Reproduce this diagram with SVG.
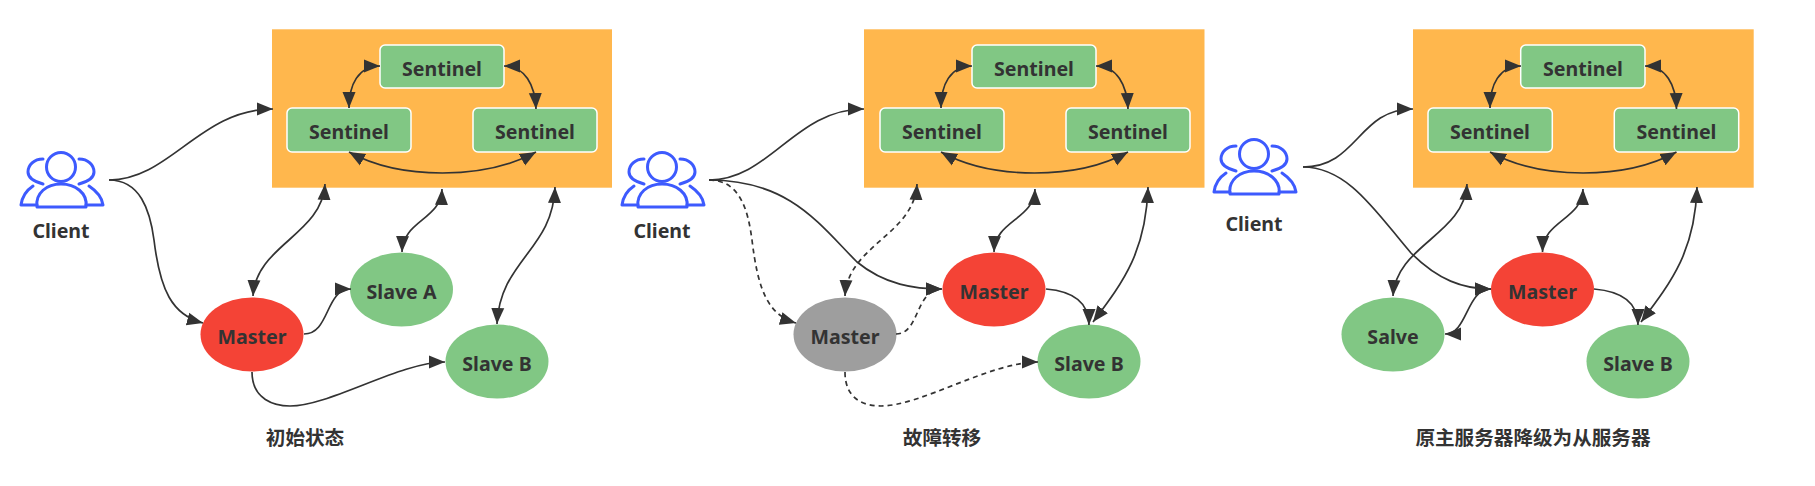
<svg xmlns="http://www.w3.org/2000/svg" xmlns:xlink="http://www.w3.org/1999/xlink" width="1815" height="486" viewBox="0 0 1815 486">
<style>
text{font-family:"Noto Sans","Noto Sans CJK SC",sans-serif;font-weight:700;fill:#333;text-anchor:middle;dominant-baseline:central;font-size:19.6px}
.cap{font-family:"Noto Sans CJK SC","Noto Sans",sans-serif;font-size:19.6px}
.cluster{fill:#FFB74D}
.sen{fill:#81C784;stroke:#fff;stroke-width:1.5}
.green{fill:#81C784}.red{fill:#F44336}.gray{fill:#9E9E9E}
.icon path,.icon ellipse{fill:none;stroke:#3D5AFE;stroke-width:3;stroke-linejoin:round;stroke-linecap:round}
#connectors path{fill:none;stroke:#333;stroke-width:1.7}
#connectors .d{stroke-dasharray:5 4}
#connectors .one{marker-end:url(#a)}
#connectors .two{marker-start:url(#a);marker-end:url(#a)}
</style>
<defs>
<marker id="a" markerUnits="userSpaceOnUse" markerWidth="18" markerHeight="16" refX="16" refY="7" orient="auto-start-reverse"><path d="M0,0.5L16,7L0,13.5Z" fill="#333"/></marker>
<g id="person" class="icon">
<ellipse cx="61" cy="167" rx="14.5" ry="14.5"/>
<path d="M37,207L86,207C88,193 75,184 61,184C47,184 35,193 37,207Z"/>
<path d="M43,159C34,159 28,165 28,172C28,177 32,181 43,184M33,186C27,190 22,197 21,205L37,205"/>
<path d="M79,159C88,159 94,165 94,172C94,177 90,181 79,184M89,186C95,190 102,197 103,205L86,205"/>
</g>
</defs>

<g id="panel1-sentinels"><rect class="cluster" x="272" y="29.3" width="340" height="158.4"/></g>
<g id="p1-sentinel-top"><rect class="sen" x="380" y="45" width="124" height="43" rx="5"/><text x="442" y="68">Sentinel</text></g>
<g id="p1-sentinel-left"><rect class="sen" x="287" y="108" width="124" height="44" rx="5"/><text x="349" y="131">Sentinel</text></g>
<g id="p1-sentinel-right"><rect class="sen" x="473" y="108" width="124" height="44" rx="5"/><text x="535" y="131">Sentinel</text></g>
<g id="p1-client"><use href="#person"/><text x="61" y="230">Client</text></g>
<g id="p1-master"><ellipse class="red" cx="252" cy="334.5" rx="51.5" ry="37"/><text x="252" y="336.5">Master</text></g>
<g id="p1-slave-a"><ellipse class="green" cx="401.5" cy="289.5" rx="51.5" ry="37"/><text x="401.5" y="291.5">Slave A</text></g>
<g id="p1-slave-b"><ellipse class="green" cx="497" cy="361.5" rx="51.5" ry="37"/><text x="497" y="363.5">Slave B</text></g>
<g id="p1-caption"><text class="cap" x="305" y="436">初始状态</text></g>

<g id="panel2-sentinels"><rect class="cluster" x="864" y="29.3" width="340.5" height="158.4"/></g>
<g id="p2-sentinel-top"><rect class="sen" x="972" y="45" width="124" height="43" rx="5"/><text x="1034" y="68">Sentinel</text></g>
<g id="p2-sentinel-left"><rect class="sen" x="880" y="108" width="124" height="44" rx="5"/><text x="942" y="131">Sentinel</text></g>
<g id="p2-sentinel-right"><rect class="sen" x="1066" y="108" width="124" height="44" rx="5"/><text x="1128" y="131">Sentinel</text></g>
<g id="p2-client"><use href="#person" x="601"/><text x="662" y="230">Client</text></g>
<g id="p2-old-master"><ellipse class="gray" cx="845" cy="334.5" rx="51.5" ry="37"/><text x="845" y="336.5">Master</text></g>
<g id="p2-master"><ellipse class="red" cx="994" cy="289.5" rx="51.5" ry="37"/><text x="994" y="291.5">Master</text></g>
<g id="p2-slave-b"><ellipse class="green" cx="1089" cy="361.5" rx="51.5" ry="37"/><text x="1089" y="363.5">Slave B</text></g>
<g id="p2-caption"><text class="cap" x="942" y="436">故障转移</text></g>

<g id="panel3-sentinels"><rect class="cluster" x="1413" y="29.3" width="340.7" height="158.4"/></g>
<g id="p3-sentinel-top"><rect class="sen" x="1520.7" y="45" width="124.3" height="43" rx="5"/><text x="1583" y="68">Sentinel</text></g>
<g id="p3-sentinel-left"><rect class="sen" x="1428" y="108" width="124.3" height="44" rx="5"/><text x="1490" y="131">Sentinel</text></g>
<g id="p3-sentinel-right"><rect class="sen" x="1614.3" y="108" width="124.4" height="44" rx="5"/><text x="1676.5" y="131">Sentinel</text></g>
<g id="p3-client"><use href="#person" x="1193" y="-13"/><text x="1254" y="223">Client</text></g>
<g id="p3-salve"><ellipse class="green" cx="1393" cy="334.5" rx="51.5" ry="37"/><text x="1393" y="336.5">Salve</text></g>
<g id="p3-master"><ellipse class="red" cx="1542.5" cy="289.5" rx="51.5" ry="37"/><text x="1542.5" y="291.5">Master</text></g>
<g id="p3-slave-b"><ellipse class="green" cx="1638" cy="361.5" rx="51.5" ry="37"/><text x="1638" y="363.5">Slave B</text></g>
<g id="p3-caption"><text class="cap" x="1533" y="436">原主服务器降级为从服务器</text></g>

<g id="connectors">
<path class="two" d="M380,66C358,66 349,85 349,108"/>
<path class="two" d="M504,66C525,66 535,85 536,109"/>
<path class="two" d="M349,152C400,180 485,180 536,152"/>
<path class="one" d="M109,180C170,180 200,109 273,109"/>
<path class="one" d="M109,180C140,180 150,210 154,240C160,290 172,315 203,323"/>
<path class="two" d="M253,296C256,245 322,235 325,184"/>
<path class="two" d="M402,252C403,220 441,220 442,189"/>
<path class="two" d="M497,324C500,260 553,250 555,187"/>
<path class="one" d="M304,334C330,334 325,289 351,289"/>
<path class="one" d="M252,372C252,400 275,406 290,406C330,406 400,362 445,362"/>

<path class="two" d="M972,66C950,66 941,85 941,108"/>
<path class="two" d="M1096,66C1117,66 1127,85 1128,109"/>
<path class="two" d="M941,152C992,180 1077,180 1128,152"/>
<path class="one" d="M709,180C770,180 795,109 864,109"/>
<path class="one" d="M709,180C790,180 820,225 857,262C885,285 915,289 942,289"/>
<path class="one d" d="M709,180C740,180 748,210 752,240C758,290 768,315 796,323"/>
<path class="two d" d="M845,296C848,245 914,235 917,184"/>
<path class="two" d="M994,252C995,220 1034,220 1035,189"/>
<path class="two" d="M1093,322C1125,280 1146,250 1148,187"/>
<path class="one" d="M1046,289C1070,291 1089,300 1089,325"/>
<path class="one d" d="M896,334C920,334 915,289 942,289"/>
<path class="one d" d="M845,372C845,400 865,406 881,406C921,406 990,362 1038,362"/>

<path class="two" d="M1521,66C1499,66 1490,85 1490,108"/>
<path class="two" d="M1645,66C1666,66 1676,85 1676.5,109"/>
<path class="two" d="M1490,152C1541,180 1625,180 1676.5,152"/>
<path class="one" d="M1303,167C1358,167 1358,109 1413,109"/>
<path class="one" d="M1303,167C1349,167 1378,215 1411,253C1438,280 1463,289 1491,289"/>
<path class="two" d="M1393,296C1396,245 1464,235 1467,184"/>
<path class="two" d="M1542.5,252C1543,220 1582,220 1583,189"/>
<path class="two" d="M1641,322C1673,280 1695,250 1697,187"/>
<path class="one" d="M1594,289C1618,291 1638,300 1638,325"/>
<path class="two" d="M1445,334C1468,334 1466,289 1491,289"/>
</g>
</svg>
